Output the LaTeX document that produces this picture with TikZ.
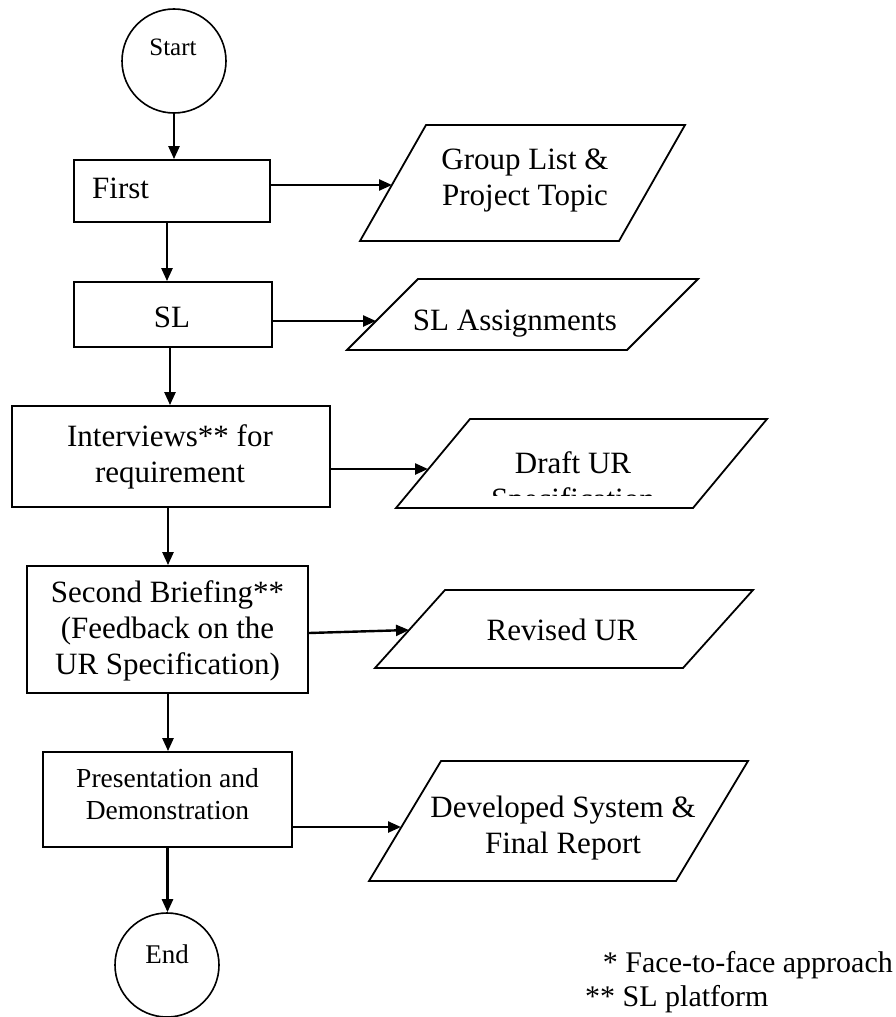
\documentclass[tikz,border=0pt]{standalone}
\usepackage{fontspec}
\setmainfont{Liberation Serif}
\usetikzlibrary{arrows.meta,calc}
\begin{document}
\begin{tikzpicture}[x=1pt,y=-1pt,
  box/.style={draw,line width=1.8pt,rectangle,inner sep=0pt},
  io/.style={draw,line width=1.8pt,line join=miter},
  term/.style={draw,circle,line width=1.6pt,minimum size=104pt,inner sep=0pt},
  lbl/.style={align=center,font=\fontsize{31}{36}\selectfont,inner sep=0pt},
  arr/.style={line width=2.4pt,-{Triangle[length=13pt,width=11pt]}},
]
\useasboundingbox (0,0) rectangle (895,1017);

% terminals
\node[term] (start) at (174,61) {};
\node[font=\fontsize{25}{30}\selectfont,anchor=base,inner sep=0pt] (tstart) at (173,55) {Start};
\node[term] (end) at (167,965) {};
\node[font=\fontsize{27}{32}\selectfont,anchor=base,inner sep=0pt] (tend) at (167,963) {End};

% process boxes
\node[box,minimum width=196pt,minimum height=62pt] (first) at (172,191) {};
\node[lbl,anchor=base west] (tfirst) at (92,198) {First};
\node[box,minimum width=198pt,minimum height=65pt] (sl) at (173,314.5) {};
\node[lbl,anchor=base] (tsl) at (172,327) {SL};
\node[box,minimum width=318pt,minimum height=101pt] (int) at (171,456.5) {};
\node[lbl] (tint) at (170,456.5) {Interviews** for\\requirement};
\node[box,minimum width=281pt,minimum height=127pt] (sec) at (167.5,629.5) {};
\node[lbl] (tsec) at (167.5,631) {Second Briefing**\\(Feedback on the\\UR Specification)};
\node[box,minimum width=249pt,minimum height=95pt] (pres) at (167.5,799.5) {};
\node[lbl,font=\fontsize{27.5}{32}\selectfont] (tpres) at (167.5,794) {Presentation and\\Demonstration};

% data parallelograms
\coordinate (p1a) at (426,125); \coordinate (p1b) at (685,125);
\coordinate (p1c) at (619,241); \coordinate (p1d) at (360,241);
\draw[io] (p1a) -- (p1b) -- (p1c) -- (p1d) -- cycle;
\node[lbl] (tp1) at (525,180) {Group List \&\\Project Topic};

\coordinate (p2a) at (418,279); \coordinate (p2b) at (698,279);
\coordinate (p2c) at (627,350); \coordinate (p2d) at (347,350);
\draw[io] (p2a) -- (p2b) -- (p2c) -- (p2d) -- cycle;
\node[lbl,anchor=base] (tp2) at (515,330) {SL Assignments};

\coordinate (p3a) at (470,419); \coordinate (p3b) at (767,419);
\coordinate (p3c) at (693,508); \coordinate (p3d) at (396,508);
\draw[io] (p3a) -- (p3b) -- (p3c) -- (p3d) -- cycle;
\node[lbl,anchor=base] (tp3) at (573,473) {Draft UR};
\begin{scope}
  \clip (400,480) rectangle (760,495);
  \node[lbl,anchor=base] (tp3b) at (573,509) {Specification};
\end{scope}

\coordinate (p4a) at (445,590); \coordinate (p4b) at (753,590);
\coordinate (p4c) at (683,668); \coordinate (p4d) at (375,668);
\draw[io] (p4a) -- (p4b) -- (p4c) -- (p4d) -- cycle;
\node[lbl,anchor=base] (tp4) at (562,640) {Revised UR};

\coordinate (p5a) at (441,761); \coordinate (p5b) at (748,761);
\coordinate (p5c) at (676,881); \coordinate (p5d) at (369,881);
\draw[io] (p5a) -- (p5b) -- (p5c) -- (p5d) -- cycle;
\node[lbl] (tp5) at (563,828) {Developed System \&\\Final Report};

% arrow end points on slanted edges
\coordinate (p1in) at (392,185);
\coordinate (p2in) at (376,321);
\coordinate (p3in) at (428,469);
\coordinate (p4in) at (409,630);
\coordinate (p5in) at (401,827);

% vertical flow
\draw[arr] (start.south) -- (start.south |- first.north);
\draw[arr] ([xshift=-5pt]first.south) -- ([xshift=-5pt]first.south |- sl.north);
\draw[arr] ([xshift=-3pt]sl.south) -- ([xshift=-3pt]sl.south |- int.north);
\draw[arr] ([xshift=-3pt]int.south) -- ([xshift=-3pt]int.south |- sec.north);
\draw[arr] ([xshift=0.5pt]sec.south) -- ([xshift=0.5pt]sec.south |- pres.north);
\draw[arr] (pres.south) -- (pres.south |- end.north);

% outputs
\draw[arr] (first.east |- p1in) -- (p1in);
\draw[arr] (sl.east |- p2in) -- (p2in);
\draw[arr] (int.east |- p3in) -- (p3in);
\draw[arr] ([yshift=-3.5pt]sec.east) -- (p4in);
\draw[arr] (pres.east |- p5in) -- (p5in);

% notes
\node[font=\fontsize{30}{34}\selectfont,anchor=base east,inner sep=0pt] (n1) at (893,972) {* Face-to-face approach};
\node[font=\fontsize{30}{34}\selectfont,anchor=base west,inner sep=0pt] (n2) at (585,1006) {** SL platform};
\end{tikzpicture}
\end{document}
